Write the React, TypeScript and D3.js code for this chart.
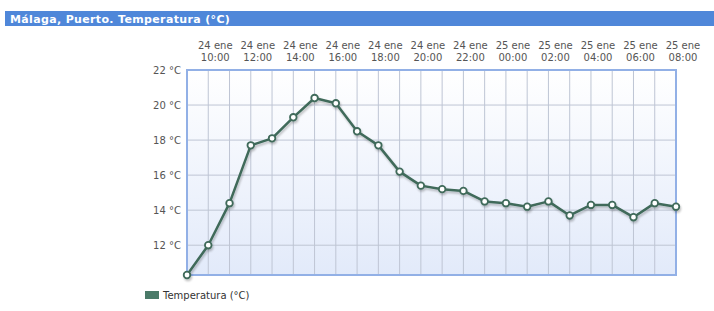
import React from "react";
import * as d3 from "d3";

const title = "Málaga, Puerto. Temperatura (°C)";
const seriesName = "Temperatura (°C)";
const hours = [
  "24 ene 09:00", "24 ene 10:00", "24 ene 11:00", "24 ene 12:00", "24 ene 13:00", "24 ene 14:00",
  "24 ene 15:00", "24 ene 16:00", "24 ene 17:00", "24 ene 18:00", "24 ene 19:00", "24 ene 20:00",
  "24 ene 21:00", "24 ene 22:00", "24 ene 23:00", "25 ene 00:00", "25 ene 01:00", "25 ene 02:00",
  "25 ene 03:00", "25 ene 04:00", "25 ene 05:00", "25 ene 06:00", "25 ene 07:00", "25 ene 08:00",
];
const temps = [
  10.3, 12.0, 14.4, 17.7, 18.1, 19.3, 20.4, 20.1, 18.5, 17.7, 16.2, 15.4,
  15.2, 15.1, 14.5, 14.4, 14.2, 14.5, 13.7, 14.3, 14.3, 13.6, 14.4, 14.2,
];
const yTicks = [12, 14, 16, 18, 20, 22];
const yMin = 10.3;
const yMax = 22;

const W = 714;
const H = 311;
const plot = { left: 187, right: 676, top: 70, bottom: 275 };
const lineColor = "#3f6a5a";
const font = "Verdana, 'DejaVu Sans', sans-serif";

export default function App() {
  const x = d3.scaleLinear().domain([0, hours.length - 1]).range([plot.left, plot.right]);
  const y = d3.scaleLinear().domain([yMin, yMax]).range([plot.bottom, plot.top]);
  const line = d3.line<number>().x((_, i) => x(i)).y((d) => y(d));
  const path = line(temps) || "";
  const labelIdx = hours.map((_, i) => i).filter((i) => i % 2 === 1);

  return (
    <svg width={W} height={H} style={{ position: "absolute", left: 0, top: 0 }}>
      <defs>
        <linearGradient id="bg" x1="0" y1="0" x2="0" y2="1">
          <stop offset="0" stopColor="#ffffff" />
          <stop offset="1" stopColor="#e2eafa" />
        </linearGradient>
        <filter id="shadow" x="-10%" y="-10%" width="120%" height="130%">
          <feGaussianBlur in="SourceAlpha" stdDeviation="1.2" />
          <feOffset dx="1" dy="2" result="b" />
          <feComponentTransfer><feFuncA type="linear" slope="0.25" /></feComponentTransfer>
          <feMerge><feMergeNode /><feMergeNode in="SourceGraphic" /></feMerge>
        </filter>
      </defs>
      <rect x={0} y={0} width={W} height={H} fill="#ffffff" />
      <rect x={5} y={11} width={W - 5} height={15} fill="#4f87d9" />
      <text x={10} y={23} fill="#ffffff" fontFamily={font} fontWeight="bold" fontSize={11} letterSpacing={0.35}>{title}</text>

      <rect x={plot.left} y={plot.top} width={plot.right - plot.left} height={plot.bottom - plot.top} fill="url(#bg)" />
      {hours.map((_, i) => (i > 0 && i < hours.length - 1 ? (
        <line key={"v" + i} x1={x(i)} x2={x(i)} y1={plot.top} y2={plot.bottom} stroke="#bec5d4" strokeWidth={1} />
      ) : null))}
      {yTicks.filter((t) => t < yMax).map((t) => (
        <line key={"h" + t} x1={plot.left} x2={plot.right} y1={y(t)} y2={y(t)} stroke="#bec5d4" strokeWidth={1} />
      ))}
      <rect x={plot.left} y={plot.top} width={plot.right - plot.left} height={plot.bottom - plot.top} fill="none" stroke="#92b0e6" strokeWidth={2} />

      {yTicks.map((t) => (
        <text key={"yl" + t} x={181} y={y(t) + 4} textAnchor="end" fontFamily={font} fontSize={10} fill="#555">{`${t} °C`}</text>
      ))}
      {labelIdx.map((i) => {
        const [d1, d2, tm] = hours[i].split(" ");
        return (
          <text key={"xl" + i} x={x(i) + 7} textAnchor="middle" fontFamily={font} fontSize={10} fill="#555">
            <tspan x={x(i) + 7} y={49}>{`${d1} ${d2}`}</tspan>
            <tspan x={x(i) + 7} y={61}>{tm}</tspan>
          </text>
        );
      })}

      <g filter="url(#shadow)">
        <path d={path} fill="none" stroke={lineColor} strokeWidth={2.5} strokeLinejoin="round" />
        {temps.map((t, i) => (
          <circle key={"c" + i} cx={x(i)} cy={y(t)} r={3.3} fill="#ffffff" stroke={lineColor} strokeWidth={1.8} />
        ))}
      </g>

      <rect x={145} y={291} width={14} height={8} fill="#4a7a68" />
      <text x={163} y={299} fontFamily={font} fontSize={10} fill="#333">{seriesName}</text>
    </svg>
  );
}
